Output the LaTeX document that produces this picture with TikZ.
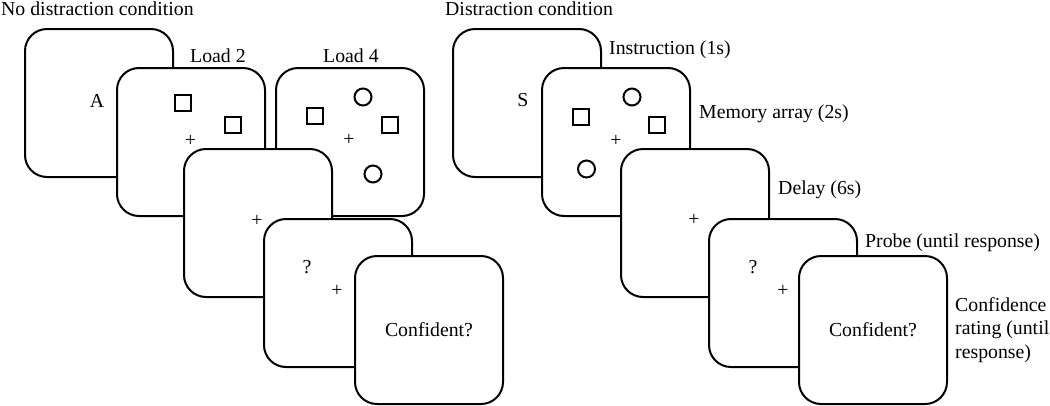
\documentclass[tikz,border=0pt]{standalone}
\usepackage{fontspec}
\setmainfont{Liberation Serif}
\begin{document}
\begin{tikzpicture}[x=1pt,y=-1pt,
  font=\fontsize{19.8}{23.3}\selectfont,
  screen/.style={draw=black, fill=white, line width=2pt, rounded corners=22pt,
    minimum width=148pt, minimum height=148pt, inner sep=0pt},
  lbl/.style={anchor=base west, inner sep=0pt},
  sym/.style={inner sep=0pt},
  shp/.style={draw=black, line width=2pt}]
\useasboundingbox (0,0) rectangle (1050,405);
\fill[white] (0,0) rectangle (1050,405);

% ---------- No distraction condition ----------
\node[lbl] (t1) at (1,15) {No distraction condition};
\node[lbl] (load2) at (190,62) {Load 2};
\node[lbl] (load4) at (323,62) {Load 4};

\node[screen] (A) at (99,103) {};
\node[sym] (Atxt) at (97,101) {A};

\node[screen] (L2) at (191,142) {};
\draw[shp] (175,94.5) rectangle ++(16,16);
\draw[shp] (225,117) rectangle ++(16,16);
\node[sym] (L2p) at (190.5,140.5) {+};

\node[screen] (L4) at (350,142) {};
\draw[shp] (363,97) circle[radius=8.5pt];
\draw[shp] (306.5,108) rectangle ++(16,16);
\draw[shp] (382,117) rectangle ++(16,16);
\node[sym] (L4p) at (349,140) {+};
\draw[shp] (373,174) circle[radius=8.5pt];

\node[screen] (D1) at (258,223) {};
\node[sym] (D1p) at (257,221) {+};

\node[screen] (P1) at (338,293) {};
\node[sym] (P1q) at (307,267) {?};
\node[sym] (P1p) at (337,291) {+};

\node[screen] (C1) at (429,330) {};
\node[sym] (C1t) at (429,330) {Confident?};

% ---------- Distraction condition ----------
\node[lbl] (t2) at (445,15) {Distraction condition};
\node[lbl] (instr) at (609,54.5) {Instruction (1s)};
\node[lbl] (mem) at (699,118) {Memory array (2s)};
\node[lbl] (delay) at (778,194) {Delay (6s)};
\node[lbl] (probe) at (865,247) {Probe (until response)};
\node[anchor=north west, inner sep=0pt, align=left] (conf) at (955,297.5)
  {Confidence\\rating (until\\response)};

\node[screen] (S) at (527,103) {};
\node[sym] (Stxt) at (523,100.5) {S};

\node[screen] (M) at (616,142) {};
\draw[shp] (632,97) circle[radius=8.5pt];
\draw[shp] (572.5,108.5) rectangle ++(16,16);
\draw[shp] (649,117) rectangle ++(16,16);
\node[sym] (Mp) at (616,141) {+};
\draw[shp] (586.5,169) circle[radius=8.5pt];

\node[screen] (D2) at (695,223) {};
\node[sym] (D2p) at (694,220) {+};

\node[screen] (P2) at (783,293) {};
\node[sym] (P2q) at (753,267) {?};
\node[sym] (P2p) at (783,291) {+};

\node[screen] (C2) at (873,330) {};
\node[sym] (C2t) at (873,330) {Confident?};
\end{tikzpicture}
\end{document}
